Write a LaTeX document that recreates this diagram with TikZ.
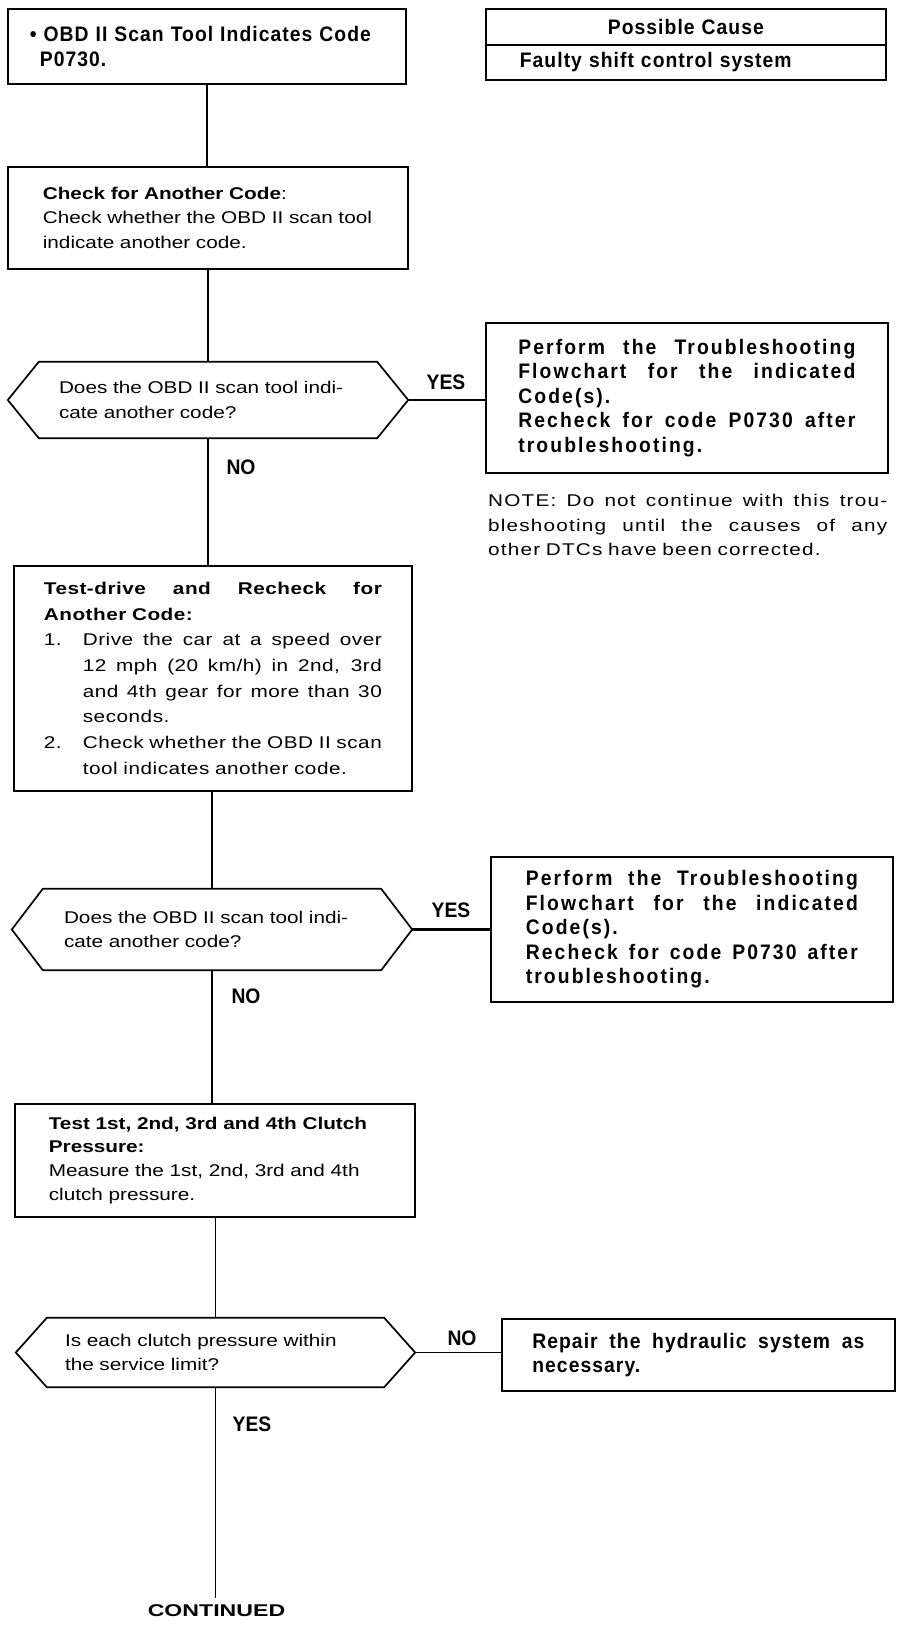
\documentclass[tikz,border=0pt]{standalone}
\usepackage{fontspec}
\setmainfont{Liberation Sans}[FakeStretch=1.22]
\newfontfamily\cfam{Liberation Sans}[FakeStretch=0.92]
\newfontfamily\cfamL{Liberation Sans}[FakeStretch=0.92,LetterSpace=10]
\newfontfamily\cfamS{Liberation Sans}[FakeStretch=0.92,LetterSpace=5]
\newfontfamily\nfamL{Liberation Sans}[FakeStretch=1.22,LetterSpace=7]
\newfontfamily\nfamS{Liberation Sans}[FakeStretch=1.22,LetterSpace=3]
\newfontfamily\widefam{Liberation Sans}[FakeStretch=1.36]
\newcommand{\fs}{\fontsize{17pt}{24.5pt}\selectfont}
\newcommand{\cfs}{\fontsize{21pt}{24.5pt}\selectfont}
\newcommand{\jbox}[2]{{\spaceskip=0.3em plus 20em minus 0.05em\xspaceskip=0.35em plus 20em\makebox[#1][s]{#2}}}
\newcommand{\jline}[1]{\jbox{\hsize}{#1}}
\newcommand{\Ln}[1]{\mbox{#1}}
\newcommand{\hexa}[2]{\draw[line width=1.7pt] (#1.west) -- ([xshift=#2]#1.north west) -- ([xshift=-#2]#1.north east) -- (#1.east) -- ([xshift=-#2]#1.south east) -- ([xshift=#2]#1.south west) -- cycle;}
\tikzset{
  box/.style={draw, line width=1.7pt, rectangle, inner sep=0pt, anchor=north west, align=left, font=\fs},
  dia/.style={rectangle, inner sep=0pt, align=left, font=\fs},
  lbl/.style={inner sep=0pt, font=\cfam\bfseries\cfs},
  conn/.style={line width=1.3pt},
}
\begin{document}
\begin{tikzpicture}[x=1pt,y=-1pt]
\fill[white] (0,0) rectangle (912,1626);
\useasboundingbox (0,0) rectangle (912,1626);

% start box
\node[box, minimum width=398pt, minimum height=75pt, text width=354pt, font=\cfamS\bfseries\cfs] (b1) at (7,8)
 {\Ln{\textbullet\ OBD II Scan Tool Indicates Code}\\\hspace*{10pt}P0730.};

% possible cause table
\node[box, minimum width=400pt, minimum height=36pt, text width=400pt, align=center, font=\cfamS\bfseries\cfs] (pc1) at (485,8)
 {Possible Cause};
\node[box, minimum width=400pt, minimum height=35pt, text width=332pt, font=\cfamS\bfseries\cfs] (pc2) at (485,44)
 {\Ln{Faulty shift control system}};

% check for another code
\node[box, minimum width=400pt, minimum height=102pt, text width=330pt] (b2) at (7,166)
 {\bfseries Check for Another Code\mdseries:\\\Ln{Check whether the OBD II scan tool}\\\Ln{indicate another code.}};

% decision 1
\node[dia, minimum width=400pt, minimum height=76pt, text width=298pt] (d1) at (208,400)
 {\Ln{Does the OBD II scan tool indi-}\\\Ln{cate another code?}};
\hexa{d1}{31pt}

\node[box, minimum width=402pt, minimum height=150pt, text width=337pt, font=\cfamL\bfseries\cfs] (r1) at (485,322)
 {\jline{Perform the Troubleshooting}\\\jline{Flowchart for the indicated}\\\Ln{Code(s).}\\\jline{Recheck for code P0730 after}\\\Ln{troubleshooting.}};

\node[anchor=north west, inner sep=0pt, text width=399pt, align=left, font=\nfamL\fs] (note) at (488,494)
 {\jline{NOTE: Do not continue with this trou-}\\\jline{bleshooting until the causes of any}\\\Ln{other DTCs have been corrected.}};

\node[lbl] (yes1) at (446,382) {YES};
\node[lbl] (no1) at (241,467) {NO};

% test drive box
\node[box, minimum width=398pt, minimum height=225pt, text width=338pt, font=\nfamS\fontsize{17pt}{25.7pt}\selectfont] (b3) at (13,565)
 {\bfseries\jline{Test-drive and Recheck for}\\\Ln{Another Code:}\\\mdseries
  \makebox[39pt][l]{1.}\jbox{299pt}{Drive the car at a speed over}\\
  \hspace*{39pt}\jbox{299pt}{12 mph (20 km/h) in 2nd, 3rd}\\
  \hspace*{39pt}\jbox{299pt}{and 4th gear for more than 30}\\
  \hspace*{39pt}\Ln{seconds.}\\
  \makebox[39pt][l]{2.}\jbox{299pt}{Check whether the OBD II scan}\\
  \hspace*{39pt}\Ln{tool indicates another code.}};

% decision 2
\node[dia, minimum width=400pt, minimum height=81pt, text width=296pt] (d2) at (212,929.5)
 {\Ln{Does the OBD II scan tool indi-}\\\Ln{cate another code?}};
\hexa{d2}{31pt}

\node[box, minimum width=402pt, minimum height=145pt, text width=332pt, font=\cfamL\bfseries\cfs] (r2) at (490,856)
 {\jline{Perform the Troubleshooting}\\\jline{Flowchart for the indicated}\\\Ln{Code(s).}\\\jline{Recheck for code P0730 after}\\\Ln{troubleshooting.}};

\node[lbl] (yes2) at (451,910) {YES};
\node[lbl] (no2) at (246,996) {NO};

% clutch pressure test
\node[box, minimum width=400pt, minimum height=113pt, text width=332pt, font=\fontsize{17pt}{23.7pt}\selectfont] (b4) at (14,1103)
 {\bfseries\Ln{Test 1st, 2nd, 3rd and 4th Clutch}\\\Ln{Pressure:}\\\mdseries\Ln{Measure the 1st, 2nd, 3rd and 4th}\\\Ln{clutch pressure.}};

% decision 3
\node[dia, minimum width=399pt, minimum height=69pt, text width=301pt] (d3) at (215.5,1352.5)
 {\Ln{Is each clutch pressure within}\\\Ln{the service limit?}};
\hexa{d3}{31pt}

\node[box, minimum width=393pt, minimum height=72pt, text width=332pt, font=\cfamS\bfseries\cfs] (r3) at (501,1318)
 {\jline{Repair the hydraulic system as}\\\Ln{necessary.}};

\node[lbl] (no3) at (462,1338) {NO};
\node[lbl] (yes3) at (252,1424) {YES};

\coordinate (cend) at (215.5,1598);
\node[inner sep=0pt, font=\widefam\bfseries\fontsize{17pt}{20pt}\selectfont] (cont) at (216.5,1611) {CONTINUED};

% connectors
\draw[conn] (b1.south) -- (b1.south |- b2.north);
\draw[conn] (b2.south) -- (b2.south |- d1.north);
\draw[conn] (d1.east) -- (d1.east -| r1.west);
\draw[conn] (d1.south) -- (d1.south |- b3.north);
\draw[conn] (d2.north |- b3.south) -- (d2.north);
\draw[line width=3pt] (d2.east) -- (d2.east -| r2.west);
\draw[conn] (d2.south) -- (d2.south |- b4.north);
\draw[conn] (d3.north |- b4.south) -- (d3.north);
\draw[conn] (d3.east) -- (d3.east -| r3.west);
\draw[conn] (d3.south) -- (d3.south |- cend);
\end{tikzpicture}
\end{document}
